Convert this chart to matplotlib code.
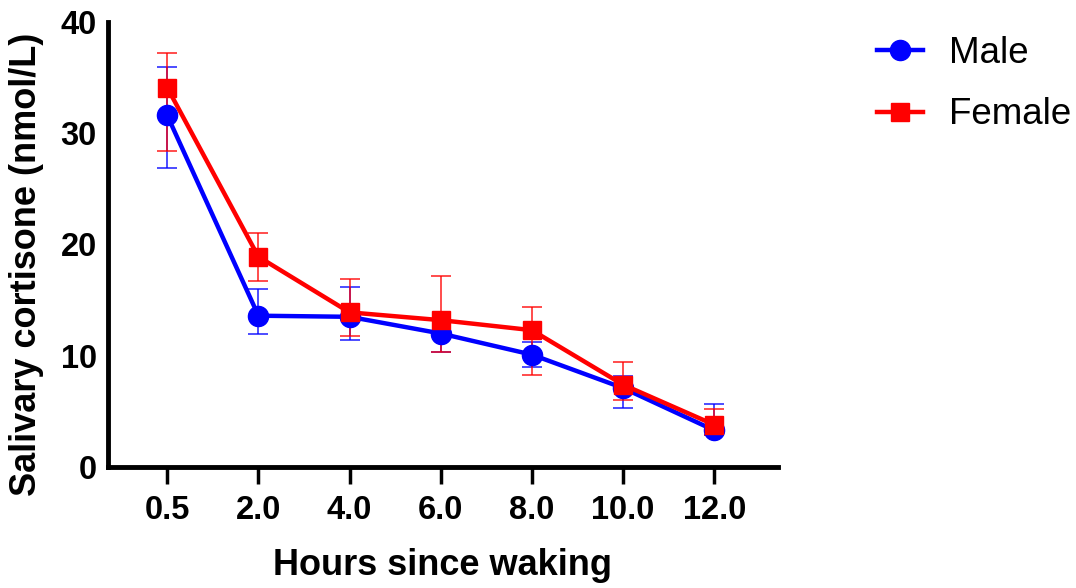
import numpy as np
import matplotlib.pyplot as plt

plt.rcParams['font.family'] = ['Liberation Sans', 'DejaVu Sans']

# data
hours = ["0.5", "2.0", "4.0", "6.0", "8.0", "10.0", "12.0"]
male = [31.6, 13.6, 13.5, 12.0, 10.1, 7.1, 3.3]
male_lo = [26.9, 12.0, 11.4, 10.3, 9.0, 5.3, 2.9]
male_hi = [36.0, 16.0, 16.2, 13.3, 11.2, 8.2, 5.7]
female = [34.1, 18.9, 13.9, 13.2, 12.3, 7.4, 3.8]
female_lo = [28.4, 16.7, 11.8, 10.3, 8.3, 6.0, 2.9]
female_hi = [37.2, 21.0, 16.9, 17.2, 14.4, 9.4, 5.2]

x = np.arange(len(hours))

fig = plt.figure(figsize=(10.76, 5.88), dpi=100)
ax = fig.add_axes([108/1076, 1 - 467/588, (778-108)/1076, (467-22)/588])

def draw(vals, lo, hi, color, marker, ms, label):
    vals = np.array(vals)
    yerr = [vals - np.array(lo), np.array(hi) - vals]
    ax.errorbar(x, vals, yerr=yerr, fmt='none', ecolor=color, elinewidth=1.4,
                capsize=7.5, capthick=1.4, alpha=0.7, zorder=2)
    ax.plot(x, vals, color=color, lw=3.2, marker=marker, ms=ms, label=label, zorder=3)

draw(male, male_lo, male_hi, 'blue', 'o', 14.5, 'Male')
draw(female, female_lo, female_hi, 'red', 's', 13.5, 'Female')

ax.set_xlim(-0.65, 6.7)
ax.set_ylim(0, 40)
ax.set_xticks(x)
ax.set_xticklabels(hours)
ax.set_yticks([0, 10, 20, 30, 40])
for s in ['top', 'right']:
    ax.spines[s].set_visible(False)
for s in ['left', 'bottom']:
    ax.spines[s].set_linewidth(3.5)
ax.tick_params(axis='x', width=2.5, length=12, labelsize=23.5, pad=8)
ax.tick_params(axis='y', length=0, labelsize=23.5, pad=8)
for lab in ax.get_xticklabels() + ax.get_yticklabels():
    lab.set_fontweight('bold')

ax.set_xlabel("Hours since waking", fontsize=26, fontweight='bold', labelpad=16)
ax.set_ylabel("Salivary cortisone (nmol/L)", fontsize=26, fontweight='bold')
ax.yaxis.set_label_coords(-0.096, 0.456)

ax.legend(loc='upper left', bbox_to_anchor=(877/1076, 1 - 36/588),
          bbox_transform=fig.transFigure, frameon=False, fontsize=26.5,
          handlelength=1.25, labelspacing=0.72, handletextpad=0.7,
          borderpad=0, borderaxespad=0)

plt.savefig("out.png", dpi=100)
